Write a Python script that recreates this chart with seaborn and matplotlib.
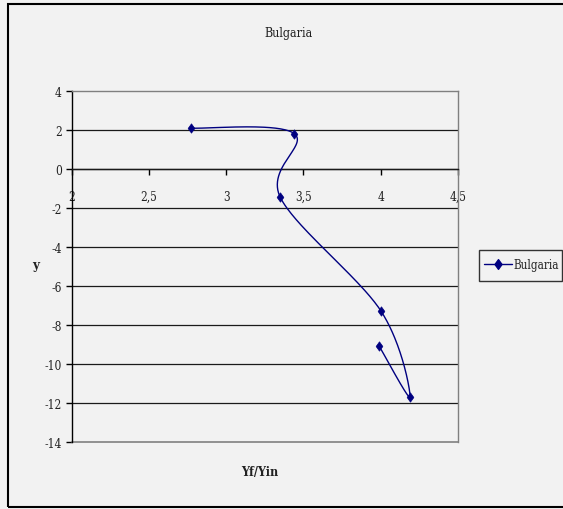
import numpy as np
import pandas as pd
import matplotlib
matplotlib.use("Agg")
import matplotlib.pyplot as plt
from matplotlib.lines import Line2D
from matplotlib.patches import Rectangle
from matplotlib.path import Path
import seaborn as sns

# Series values (Yf/Yin against y), in plotting order
yf_yin = [2.77, 3.44, 3.35, 4.00, 4.19, 3.99]
y_vals = [2.08, 1.80, -1.47, -7.28, -11.70, -9.10]
series_name = "Bulgaria"

x_ticks = [2.0, 2.5, 3.0, 3.5, 4.0, 4.5]
x_tick_labels = ["2", "2,5", "3", "3,5", "4", "4,5"]
y_ticks = [4, 2, 0, -2, -4, -6, -8, -10, -12, -14]
y_tick_labels = ["4", "2", "0", "-2", "-4", "-6", "-8", "-10", "-12", "-14"]

df = pd.DataFrame({"Yf/Yin": yf_yin, "y": y_vals})

sns.set_theme(style="white")
bg = "#f2f2f2"
navy = "#000080"
font = dict(family=["DejaVu Serif", "Liberation Serif"], stretch="condensed")

fig = plt.figure(figsize=(5.63, 5.10), dpi=100, facecolor=bg)
W, H = 563, 510
ax = fig.add_axes([71.7 / W, 1 - 442.7 / H, (458 - 71.7) / W, (442.7 - 91.7) / H])
ax.set_facecolor(bg)
ax.set_xlim(2, 4.5)
ax.set_ylim(-14, 4)

# Smoothed connecting curve (cubic Bezier, Catmull-Rom style tangents) in screen-proportional units
sx, sy = 386 / 2.5, 351 / 18.0
P = np.column_stack([np.array(yf_yin) * sx, np.array(y_vals) * sy])
curve = []
n = len(P)
for i in range(n - 1):
    p0 = P[i - 1] if i > 0 else P[i]
    p1, p2 = P[i], P[i + 1]
    p3 = P[i + 2] if i + 2 < n else P[i + 1]
    c1 = p1 + (p2 - p0) / 6.0
    c2 = p2 - (p3 - p1) / 6.0
    t = np.linspace(0, 1, 60)[:, None]
    seg = ((1 - t) ** 3) * p1 + 3 * ((1 - t) ** 2) * t * c1 + 3 * (1 - t) * t ** 2 * c2 + t ** 3 * p2
    curve.append(seg if i == 0 else seg[1:])
curve = np.vstack(curve)
curve_df = pd.DataFrame({"Yf/Yin": curve[:, 0] / sx, "y": curve[:, 1] / sy})
sns.lineplot(data=curve_df, x="Yf/Yin", y="y", sort=False, estimator=None,
             color=navy, linewidth=1.0, ax=ax, zorder=3)

# Diamond markers at the data points
diamond = Path([(0, 1), (0.72, 0), (0, -1), (-0.72, 0), (0, 1)],
               [Path.MOVETO, Path.LINETO, Path.LINETO, Path.LINETO, Path.CLOSEPOLY])
sns.scatterplot(data=df, x="Yf/Yin", y="y", marker=diamond, s=45, color=navy,
                edgecolor=navy, linewidth=0.5, ax=ax, zorder=4)

# Gridlines and frame
for yv in y_ticks:
    if -14 < yv < 4:
        ax.axhline(yv, color="#1a1a1a", linewidth=0.9, zorder=1)
for side in ["top", "right"]:
    ax.spines[side].set_visible(True)
    ax.spines[side].set_color("#808080")
    ax.spines[side].set_linewidth(1.0)
ax.axhline(-14, color="#808080", linewidth=1.2, clip_on=False, zorder=2)
ax.spines["left"].set_color("black")
ax.spines["left"].set_linewidth(1.0)
ax.spines["bottom"].set_position(("data", 0))
ax.spines["bottom"].set_color("#1a1a1a")
ax.spines["bottom"].set_linewidth(1.0)

ax.set_xticks(x_ticks)
ax.set_xticklabels(x_tick_labels, fontsize=8.5, **font)
ax.set_yticks(y_ticks)
ax.set_yticklabels(y_tick_labels, fontsize=8.5, **font)
ax.tick_params(axis="x", direction="out", length=4, width=1, color="black", pad=11, labelcolor="#222222")
ax.tick_params(axis="y", direction="out", length=4, width=1, color="black", pad=3, labelcolor="#222222")
ax.tick_params(bottom=True, left=True)
ax.set_xlabel("")
ax.set_ylabel("")

# Titles and axis labels
fig.text(289 / W, 1 - 33 / H, "Bulgaria", ha="center", va="center", fontsize=9, color="#222222", **font)
fig.text(260 / W, 1 - 473 / H, "Yf/Yin", ha="center", va="center", fontsize=9, weight="bold", color="#222222", **font)
fig.text(35.5 / W, 1 - 266 / H, "y", ha="center", va="center", fontsize=9.5, weight="bold", color="#222222", **font)

# Legend entry (frame drawn separately as a box)
handle = Line2D([0], [0], color=navy, linewidth=1.0, marker=diamond, markersize=7,
                markerfacecolor=navy, markeredgecolor=navy)
fig.legend([handle], [series_name], loc="center left",
           bbox_to_anchor=(483.5 / W, 1 - 266 / H), frameon=False,
           handlelength=2.4, handletextpad=0.2, borderpad=0.0, borderaxespad=0,
           prop=dict(family=["DejaVu Serif", "Liberation Serif"], stretch="condensed", size=8.4))
fig.patches.append(Rectangle((479 / W, 1 - 281.7 / H), (561.7 - 479) / W, (281.7 - 250.7) / H,
                             transform=fig.transFigure, facecolor=bg, edgecolor="#333333",
                             linewidth=1.0, zorder=0.5))

# Outer chart border
fig.patches.append(Rectangle((8 / W, 1 - 508 / H), (575 - 8) / W, (508 - 5) / H,
                             transform=fig.transFigure, fill=False, edgecolor="black",
                             linewidth=1.5, zorder=0))

fig.savefig("out.png", dpi=100, facecolor=bg)
